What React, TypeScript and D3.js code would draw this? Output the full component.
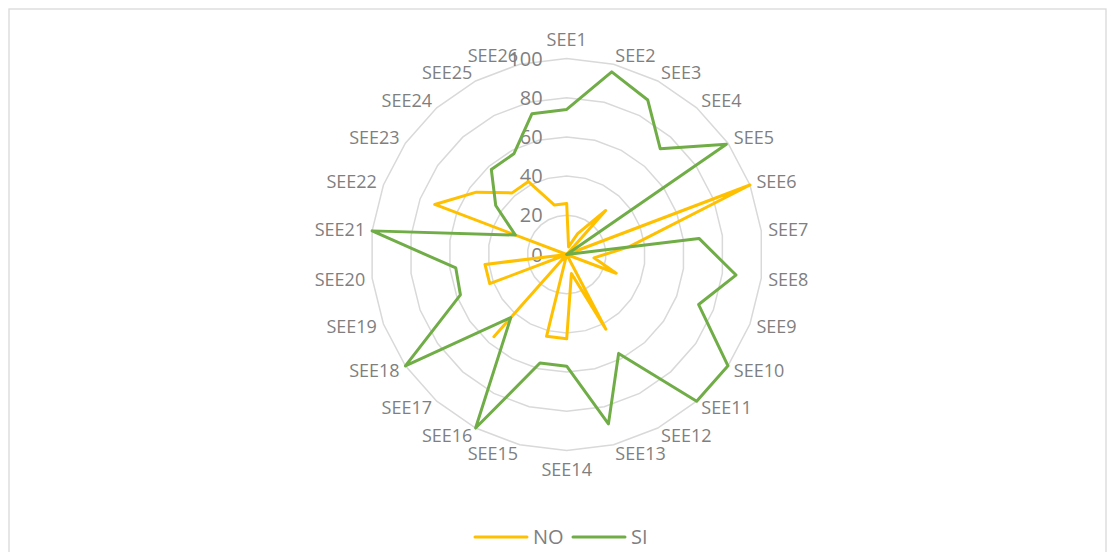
import React from "react";
import * as d3 from "d3";

const categories = [
  "SEE1","SEE2","SEE3","SEE4","SEE5","SEE6","SEE7","SEE8","SEE9","SEE10","SEE11","SEE12","SEE13",
  "SEE14","SEE15","SEE16","SEE17","SEE18","SEE19","SEE20","SEE21","SEE22","SEE23","SEE24","SEE25","SEE26",
];
const noValues = [26, 4, 12, 30, 0, 100, 32, 14, 27, 0, 0, 43, 10, 43, 43, 0, 56, 0, 42, 42, 0, 72, 56, 42, 42, 26];
const siValues = [74, 96, 89, 72, 99, 0, 68, 87, 72, 100, 100, 57, 89, 57, 57, 100, 43, 100, 58, 57, 100, 28, 44, 58, 58, 74];
const ticks = [0, 20, 40, 60, 80, 100];
const seriesNames = ["NO", "SI"];
const seriesColors = ["#FFC000", "#70AD47"];

const W = 1114;
const H = 552;
const cx = 566.7;
const cy = 254.5;
const R = 196;
const FONT = "'Open Sans', sans-serif";
const TEXT = "#7f7f7f";

export default function App() {
  const r = d3.scaleLinear().domain([0, 100]).range([0, R]);
  const n = categories.length;
  const ang = d3.scaleLinear().domain([0, n]).range([0, 2 * Math.PI]);

  const line = d3
    .lineRadial<number>()
    .angle((_, i) => ang(i))
    .radius((d) => r(d))
    .curve(d3.curveLinearClosed);

  const grid = d3
    .lineRadial<number>()
    .angle((_, i) => ang(i))
    .radius((d) => r(d))
    .curve(d3.curveLinearClosed);

  const series = [noValues, siValues];

  return (
    <div style={{ position: "fixed", left: 0, top: 0, width: W, height: H, overflow: "hidden", background: "#fff" }}>
      <svg width={W} height={H} style={{ display: "block" }}>
        <rect x={9} y={9} width={1097} height={560} fill="#fff" stroke="#d9d9d9" strokeWidth={1.3} />
        <g transform={`translate(${cx},${cy})`}>
          {ticks.filter((t) => t > 0).map((t) => (
            <path key={t} d={grid(categories.map(() => t)) || ""} fill="none" stroke="#d9d9d9" strokeWidth={1.5} />
          ))}
          {ticks.map((t) => (
            <text
              key={"t" + t}
              x={-24}
              y={-r(t)}
              dy="0.35em"
              textAnchor="end"
              fontFamily={FONT}
              fontSize={20}
              fill={TEXT}
            >
              {t}
            </text>
          ))}
          {categories.map((c, i) => {
            const a = ang(i);
            const s = Math.sin(a);
            const co = Math.cos(a);
            const mid = Math.abs(s) < 0.01;
            const x = (R + 7) * s;
            const y = -R * co - (mid ? 19 : 9) * co;
            return (
              <text
                key={c}
                x={x}
                y={y}
                dy="0.35em"
                textAnchor={mid ? "middle" : s > 0 ? "start" : "end"}
                fontFamily={FONT}
                fontSize={18}
                fill={TEXT}
              >
                {c}
              </text>
            );
          })}
          {series.map((vals, k) => (
            <path
              key={seriesNames[k]}
              d={line(vals) || ""}
              fill="none"
              stroke={seriesColors[k]}
              strokeWidth={3}
              strokeLinejoin="round"
            />
          ))}
        </g>
        <g>
          <line x1={475} x2={527} y1={537} y2={537} stroke={seriesColors[0]} strokeWidth={3} strokeLinecap="round" />
          <text x={533} y={537} dy="0.35em" fontFamily={FONT} fontSize={20} fill={TEXT}>
            {seriesNames[0]}
          </text>
          <line x1={573} x2={625} y1={537} y2={537} stroke={seriesColors[1]} strokeWidth={3} strokeLinecap="round" />
          <text x={631} y={537} dy="0.35em" fontFamily={FONT} fontSize={20} fill={TEXT}>
            {seriesNames[1]}
          </text>
        </g>
      </svg>
    </div>
  );
}
